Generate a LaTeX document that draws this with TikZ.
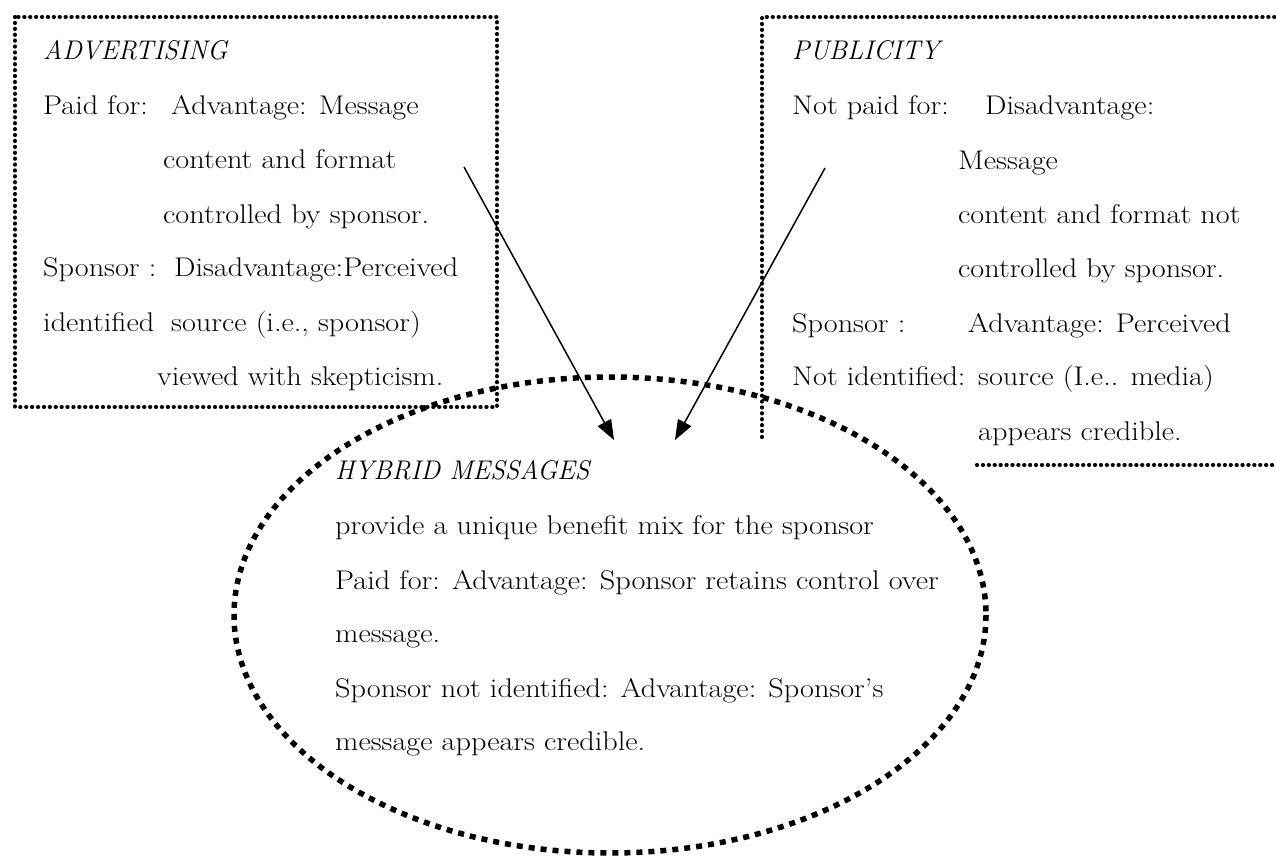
\documentclass[tikz,border=0pt]{standalone}
\usepackage{fontspec}
\setmainfont[FakeStretch=1.12]{Latin Modern Roman}
\newfontfamily\headfont[FakeStretch=0.98]{Latin Modern Roman}
\usetikzlibrary{arrows.meta}
\tikzset{
  txt/.style={anchor=base west, inner sep=0pt, font=\fontsize{27}{30}\selectfont},
  head/.style={anchor=base west, inner sep=0pt, font=\headfont\fontsize{27}{30}\selectfont\itshape},
  boxline/.style={line width=4.2pt, line cap=round, dash pattern=on 0.1pt off 5.8pt},
  ovalline/.style={line width=5.5pt, dash pattern=on 6pt off 6pt},
  conn/.style={line width=1.5pt, -{Triangle[length=20pt,width=15pt]}},
}
\begin{document}
\begin{tikzpicture}[x=1pt,y=-1pt]
\useasboundingbox (0,0) rectangle (1276,858);
% Advertising box
\draw[boxline] (15,17) rectangle (497,407);
\node[head] (adh) at (43,60) {ADVERTISING};
\node[txt] (ad1) at (43,115) {Paid for:};
\node[txt] (ad2) at (171,115) {Advantage: Message};
\node[txt] (ad3) at (163,169) {content and format};
\node[txt] (ad4) at (163,224) {controlled by sponsor.};
\node[txt] (ad5) at (43,277) {Sponsor :};
\node[txt] (ad6) at (174,277) {Disadvantage:Perceived};
\node[txt] (ad7) at (43,331) {identified};
\node[txt] (ad8) at (171,331) {source (i.e., sponsor)};
\node[txt] (ad9) at (157,385) {viewed with skepticism.};
% Publicity box (partly open)
\draw[boxline] (762,437) -- (762,17) -- (1276,17);
\draw[boxline] (977,465) -- (1276,465);
\node[head] (puh) at (792,60) {PUBLICITY};
\node[txt] (pu1) at (792,115) {Not paid for:};
\node[txt] (pu2) at (985,115) {Disadvantage:};
\node[txt] (pu3) at (958,170) {Message};
\node[txt] (pu4) at (958,224) {content and format not};
\node[txt] (pu5) at (958,278) {controlled by sponsor.};
\node[txt] (pu6) at (792,332) {Sponsor :};
\node[txt] (pu7) at (968,332) {Advantage: Perceived};
\node[txt] (pu8) at (792,385) {Not identified:};
\node[txt] (pu9) at (978,385) {source (I.e.. media)};
\node[txt] (pu10) at (978,440) {appears credible.};
% Hybrid ellipse
\draw[ovalline] (610,615) ellipse [x radius=376, y radius=238];
\node[head] (hyh) at (335,479) {HYBRID MESSAGES};
\node[txt] (hy1) at (335,534) {provide a unique benefit mix for the sponsor};
\node[txt] (hy2) at (335,589) {Paid for: Advantage: Sponsor retains control over};
\node[txt] (hy3) at (335,642) {message.};
\node[txt] (hy4) at (335,697) {Sponsor not identified: Advantage: Sponsor's};
\node[txt] (hy5) at (335,750) {message appears credible.};
% Arrows
\coordinate (a1s) at (464,167);
\coordinate (a1e) at (614,440);
\coordinate (a2s) at (825,168);
\coordinate (a2e) at (675,440);
\draw[conn] (a1s) -- (a1e);
\draw[conn] (a2s) -- (a2e);
\end{tikzpicture}
\end{document}
